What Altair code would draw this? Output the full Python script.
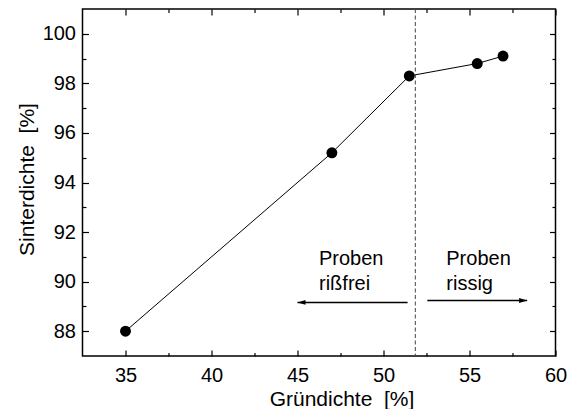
import altair as alt
import pandas as pd

# ---- data ----
gruendichte = [35.0, 47.0, 51.5, 55.45, 56.95]
sinterdichte = [88.0, 95.2, 98.3, 98.8, 99.1]

x_major = [35, 40, 45, 50, 55, 60]
x_minor = [37.5, 42.5, 47.5, 52.5, 57.5]
y_major = [88, 90, 92, 94, 96, 98, 100]
y_minor = [89, 91, 93, 95, 97, 99]

grenze = [51.85]

note_text = ["Proben", "rißfrei", "Proben", "rissig"]
note_x = [46.25, 46.25, 53.65, 53.65]
note_y = [90.68, 89.68, 90.68, 89.68]

arrow_dir = ["left", "right"]
arrow_from = [51.4, 52.55]
arrow_to = [45.0, 58.35]
arrow_y = [89.16, 89.24]

x_title = "Gründichte \u00a0[%]"
y_title = "Sinterdichte \u00a0[%]"

FONT = "Liberation Sans"

df = pd.DataFrame({"g": gruendichte, "s": sinterdichte})
df_line = pd.DataFrame({"x": grenze})
df_notes = pd.DataFrame({"t": note_text, "x": note_x, "y": note_y})
df_arrows = pd.DataFrame({"d": arrow_dir, "x0": arrow_from, "x1": arrow_to, "y": arrow_y})

xs = alt.Scale(domain=[32.5, 60], nice=False, zero=False)
ys = alt.Scale(domain=[87, 101], nice=False, zero=False)

x_lab = alt.Axis(
    orient="bottom", values=x_major, ticks=False, domain=False, grid=False,
    labelPadding=9, labelFontSize=20, labelFont=FONT, labelColor="black",
    labelFlush=False, labelOverlap=False,
    title=x_title, titleFontSize=21, titleFont=FONT,
    titleFontWeight="normal", titleColor="black",
    titleX=259, titleY=49, titleAlign="center", titleBaseline="alphabetic",
)
y_lab = alt.Axis(
    orient="left", values=y_major, ticks=False, domain=False, grid=False,
    labelPadding=7, labelFontSize=20, labelFont=FONT, labelColor="black",
    labelFlush=False, labelOverlap=False,
    title=y_title, titleFontSize=21, titleFont=FONT,
    titleFontWeight="normal", titleColor="black",
    titleX=-49.5, titleY=170, titleAngle=270, titleAlign="center",
    titleBaseline="alphabetic",
)


def tick_axis(orient, vals, size):
    return alt.Axis(
        orient=orient, values=vals, labels=False, domain=False, grid=False,
        ticks=True, tickSize=size, offset=-size, tickColor="black",
        tickWidth=1.2, title=None,
    )


base = alt.Chart(df)

line = base.mark_line(color="black", strokeWidth=1).encode(
    x=alt.X("g:Q", scale=xs, axis=x_lab),
    y=alt.Y("s:Q", scale=ys, axis=y_lab),
)

pts = base.mark_circle(size=120, color="black", opacity=1).encode(
    x=alt.X("g:Q", scale=xs, axis=tick_axis("bottom", x_major, 6)),
    y=alt.Y("s:Q", scale=ys, axis=tick_axis("left", y_major, 6)),
)


def inv(ox, oy, vx, vy, sz):
    return base.mark_point(opacity=0).encode(
        x=alt.X("g:Q", scale=xs, axis=tick_axis(ox, vx, sz)),
        y=alt.Y("s:Q", scale=ys, axis=tick_axis(oy, vy, sz)),
    )


inv1 = inv("bottom", "left", x_minor, y_minor, 3.5)
inv2 = inv("top", "right", x_major, y_major, 6)
inv3 = inv("top", "right", x_minor, y_minor, 3.5)

rule = alt.Chart(df_line).mark_rule(
    color="#444444", strokeDash=[4, 2.5], strokeWidth=1
).encode(x=alt.X("x:Q", scale=xs, axis=None))

arrows = alt.Chart(df_arrows).mark_rule(color="black", strokeWidth=1.5).encode(
    x=alt.X("x0:Q", scale=xs, axis=None),
    x2="x1:Q",
    y=alt.Y("y:Q", scale=ys, axis=None),
)

head_l = alt.Chart(df_arrows).transform_filter(alt.datum.d == "left").mark_point(
    shape="M0,0 L2,-0.6 L2,0.6 Z", filled=True, size=64, color="black",
    opacity=1, strokeWidth=0,
).encode(
    x=alt.X("x1:Q", scale=xs, axis=None),
    y=alt.Y("y:Q", scale=ys, axis=None),
)

head_r = alt.Chart(df_arrows).transform_filter(alt.datum.d == "right").mark_point(
    shape="M0,0 L-2,-0.6 L-2,0.6 Z", filled=True, size=64, color="black",
    opacity=1, strokeWidth=0,
).encode(
    x=alt.X("x1:Q", scale=xs, axis=None),
    y=alt.Y("y:Q", scale=ys, axis=None),
)

notes = alt.Chart(df_notes).mark_text(
    align="left", baseline="alphabetic", font=FONT, fontSize=20, color="black"
).encode(
    x=alt.X("x:Q", scale=xs, axis=None),
    y=alt.Y("y:Q", scale=ys, axis=None),
    text="t:N",
)

chart = (
    alt.layer(line, pts, inv1, inv2, inv3, rule, arrows, head_l, head_r, notes)
    .resolve_axis(x="independent", y="independent")
    .properties(
        width=473,
        height=347,
        autosize=alt.AutoSizeParams(type="none"),
        padding={"left": 74.5, "top": 1, "right": 15, "bottom": 53},
    )
    .configure_view(stroke="black", strokeWidth=1.5)
)

chart.save("out.html", embed_options={"renderer": "svg", "actions": False})
